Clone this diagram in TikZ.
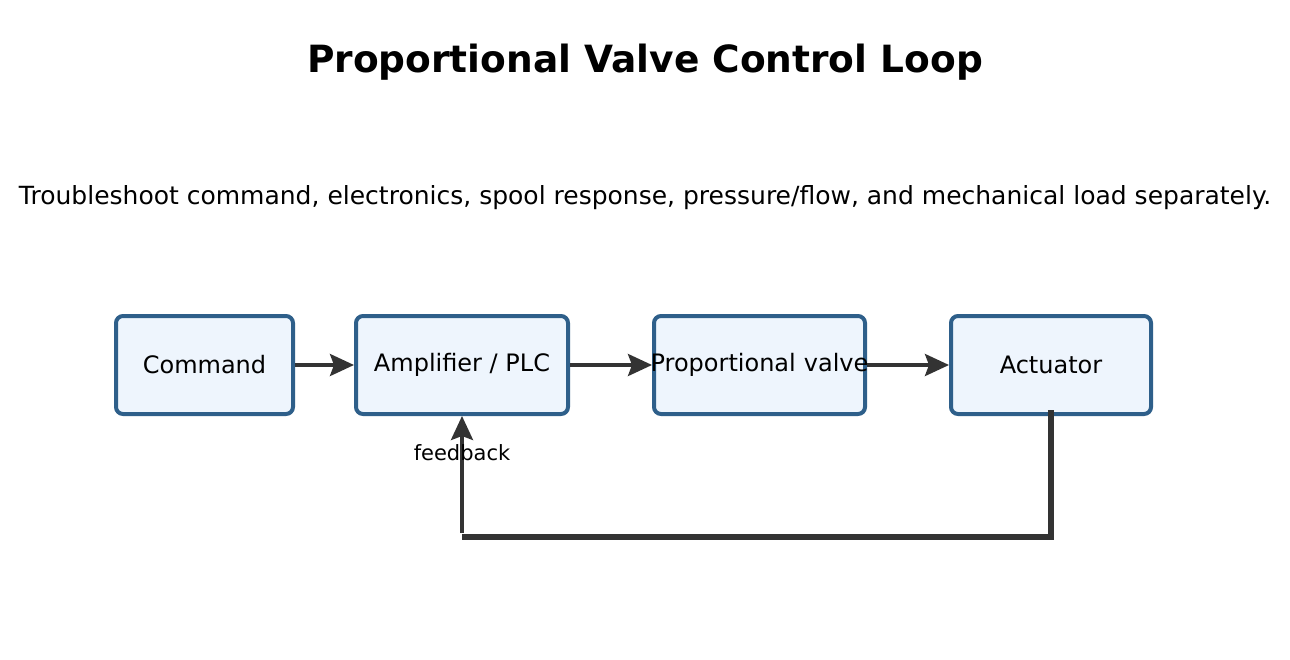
\documentclass[tikz,border=0pt]{standalone}
\usepackage{fontspec}
\setmainfont{DejaVu Sans}
\usetikzlibrary{arrows.meta}
\definecolor{bfill}{HTML}{EEF5FD}
\definecolor{bdraw}{HTML}{2E5F8A}
\definecolor{ar}{HTML}{333333}
\begin{document}
\begin{tikzpicture}[x=1pt,y=-1pt,
  box/.style={draw=bdraw,fill=bfill,line width=4pt,rounded corners=7pt,inner sep=0pt,font=\fontsize{24}{28}\selectfont},
  arr/.style={draw=ar,line width=3.5pt,-{Stealth[length=24pt,width=22pt,inset=4pt]}}]
\useasboundingbox (0,0) rectangle (1290,659);
\node[font=\bfseries\fontsize{37.5}{42}\selectfont] (title) at (645,62) {Proportional Valve Control Loop};
\node[font=\fontsize{25}{30}\selectfont] (sub) at (645,198) {Troubleshoot command, electronics, spool response, pressure/flow, and mechanical load separately.};
\node[box,minimum width=177pt,minimum height=98pt] (c) at (204.5,365) {Command};
\node[box,minimum width=212pt,minimum height=98pt] (a) at (462,365) {Amplifier / PLC};
\node[box,minimum width=211pt,minimum height=98pt,text width=205pt,align=center] (v) at (759.5,365) {\makebox[205pt]{Proportional valve}};
\node[box,minimum width=200pt,minimum height=98pt] (t) at (1051,365) {Actuator};
\draw[arr] (c) -- (a);
\draw[arr] (a) -- (v);
\draw[arr] (v) -- (t);
\coordinate (k1) at (1051,537);
\coordinate (k2) at (462,537);
\coordinate (k3) at (462,533);
\draw[ar,line width=5.5pt] (1051,410) -- (k1) -- (k2);
\draw[arr] (k3) -- (a.south);
\node[font=\fontsize{21}{25}\selectfont] (fb) at (462,453) {feedback};
\end{tikzpicture}
\end{document}
